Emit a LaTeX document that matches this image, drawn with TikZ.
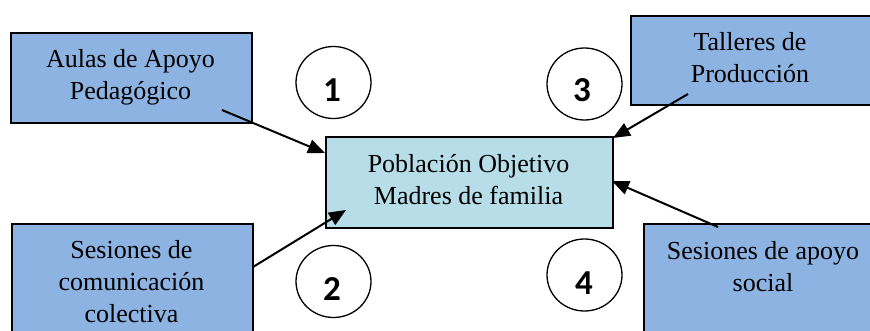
\documentclass[tikz,border=0pt]{standalone}
\usepackage{fontspec}
\setmainfont{Liberation Serif}
\newfontfamily\numfont{Carlito}
\usetikzlibrary{arrows.meta,shapes.geometric}
\definecolor{outerblue}{RGB}{141,179,226}
\definecolor{centerblue}{RGB}{183,221,232}
\tikzset{
  obox/.style={draw=black, line width=1.8pt, fill=outerblue, inner sep=0pt, anchor=north west},
  cbox/.style={draw=black, line width=1.8pt, fill=centerblue, inner sep=0pt, anchor=north west},
  shadowbox/.style={fill=black!75},
  txt/.style={align=center, inner sep=0pt, font=\rmfamily\fontsize{26}{32}\selectfont},
  numcirc/.style={draw=black, line width=1.3pt, ellipse, minimum width=75pt, minimum height=72pt, inner sep=0pt},
  numtxt/.style={inner sep=0pt, font=\numfont\bfseries\fontsize{35}{35}\selectfont},
  arr/.style={line width=2pt, -{Triangle[length=17pt,width=14pt]}}
}
\begin{document}
\begin{tikzpicture}[x=1pt,y=-1pt]
\useasboundingbox (0,0) rectangle (870,331);
\clip (0,0) rectangle (870,331);
% shadows
\fill[shadowbox] (11.5,33.5) rectangle (252.5,123.5);
\fill[shadowbox] (12.5,224.5) rectangle (253.5,340.5);
\fill[shadowbox] (631.5,16.5) rectangle (885,105.5);
\fill[shadowbox] (644.5,224.5) rectangle (885,344.5);
\fill[shadowbox] (326.5,137.5) rectangle (613.5,228.5);
% boxes
\node[obox, minimum width=250pt, minimum height=89pt] (b3) at (630,15) {};
\node[obox, minimum width=241pt, minimum height=90pt] (b1) at (10,32) {};
\node[obox, minimum width=241pt, minimum height=116pt] (b2) at (11,223) {};
\node[obox, minimum width=240pt, minimum height=120pt] (b4) at (643,223) {};
\node[cbox, minimum width=287pt, minimum height=91pt] (c) at (325,136) {};
% texts
\node[txt] (t1) at (130.5,77) {Aulas de Apoyo\\Pedagógico};
\node[txt] (t2) at (131.5,282) {Sesiones de\\comunicación\\colectiva};
\node[txt] (t3) at (750,58) {Talleres de\\Producción};
\node[txt] (t4) at (763,267) {Sesiones de apoyo\\social};
\node[txt] (tc) at (468.5,180) {Población Objetivo\\Madres de familia};
% circles
\node[numcirc] (e1) at (333.5,82.5) {};
\node[numcirc] (e2) at (333.5,281.5) {};
\node[numcirc] (e3) at (584.5,84) {};
\node[numcirc] (e4) at (584.5,275) {};
\node[numtxt] (n1) at (332,90) {1};
\node[numtxt] (n2) at (332,289) {2};
\node[numtxt] (n3) at (582,90) {3};
\node[numtxt] (n4) at (584,283) {4};
% arrow ends
\coordinate (s1) at (222,110);
\coordinate (s2) at (253,267);
\coordinate (s3) at (688,94);
\coordinate (s4) at (718,227);
\coordinate (p1) at (325,153);
\coordinate (p2) at (346,210);
\coordinate (p3) at (613,138);
\coordinate (p4) at (612,181);
\draw[arr] (s1) -- (p1);
\draw[arr] (s2) -- (p2);
\draw[arr] (s3) -- (p3);
\draw[arr] (s4) -- (p4);
\end{tikzpicture}
\end{document}
